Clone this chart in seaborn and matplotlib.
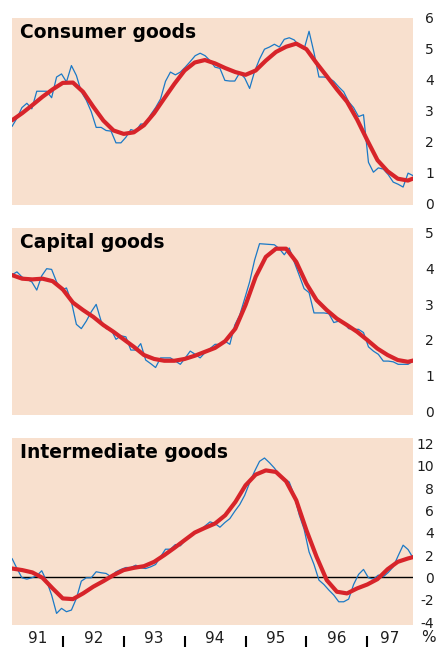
import matplotlib
matplotlib.use('Agg')
import matplotlib.pyplot as plt
import numpy as np
import seaborn as sns

consumer_monthly = [
    2.49, 2.76, 3.10, 3.24, 3.06, 3.63, 3.63, 3.63, 3.42, 4.09,
    4.19, 3.93, 4.46, 4.14, 3.61, 3.34, 2.97, 2.46, 2.46, 2.36,
    2.34, 1.96, 1.96, 2.14, 2.39, 2.34, 2.57, 2.57, 2.87, 3.10,
    3.38, 3.95, 4.25, 4.16, 4.25, 4.41, 4.59, 4.78, 4.86, 4.78,
    4.62, 4.41, 4.37, 3.98, 3.96, 3.96, 4.23, 4.06, 3.72, 4.27,
    4.67, 4.99, 5.06, 5.15, 5.06, 5.31, 5.36, 5.29, 5.10, 4.99,
    5.57, 4.88, 4.09, 4.09, 4.06, 3.95, 3.77, 3.61, 3.29, 3.10,
    2.81, 2.87, 1.33, 1.01, 1.15, 1.11, 0.93, 0.69, 0.62, 0.53,
    0.98, 0.90,
]
consumer_trend = [
    2.69, 2.92, 3.18, 3.45, 3.69, 3.90, 3.91, 3.61, 3.13, 2.68,
    2.36, 2.25, 2.30, 2.53, 2.92, 3.40, 3.87, 4.30, 4.56, 4.64,
    4.53, 4.38, 4.25, 4.16, 4.30, 4.62, 4.90, 5.07, 5.17, 4.99,
    4.54, 4.12, 3.69, 3.29, 2.71, 2.04, 1.40, 1.04, 0.80, 0.74,
    0.87,
]
capital_monthly = [
    3.82, 3.90, 3.76, 3.69, 3.62, 3.39, 3.79, 3.99, 3.97, 3.62,
    3.39, 3.45, 3.06, 2.43, 2.31, 2.52, 2.78, 2.99, 2.52, 2.31,
    2.29, 2.01, 2.11, 2.08, 1.71, 1.71, 1.89, 1.43, 1.33, 1.22,
    1.49, 1.49, 1.49, 1.40, 1.31, 1.49, 1.68, 1.59, 1.49, 1.64,
    1.75, 1.87, 1.87, 1.96, 1.87, 2.41, 2.69, 3.15, 3.62, 4.23,
    4.69, 4.68, 4.67, 4.66, 4.55, 4.38, 4.57, 4.18, 3.81, 3.43,
    3.32, 2.75, 2.75, 2.75, 2.73, 2.48, 2.52, 2.48, 2.31, 2.29,
    2.29, 2.20, 1.80, 1.68, 1.59, 1.40, 1.40, 1.38, 1.31, 1.31,
    1.31, 1.40,
]
capital_trend = [
    3.81, 3.71, 3.69, 3.71, 3.64, 3.41, 3.04, 2.83, 2.64, 2.41,
    2.22, 2.01, 1.80, 1.57, 1.46, 1.41, 1.41, 1.46, 1.55, 1.66,
    1.77, 1.96, 2.31, 2.97, 3.76, 4.32, 4.55, 4.55, 4.18, 3.57,
    3.11, 2.83, 2.59, 2.41, 2.22, 1.99, 1.75, 1.57, 1.43, 1.38,
    1.45,
]
intermediate_monthly = [
    1.70, 0.80, -0.03, -0.15, -0.03, 0.15, 0.60, -0.33, -1.58, -3.22,
    -2.77, -3.07, -2.92, -1.88, -0.33, -0.03, -0.03, 0.51, 0.42, 0.36,
    0.06, 0.51, 0.72, 0.89, 0.89, 1.10, 0.86, 0.80, 0.95, 1.16,
    1.85, 2.53, 2.53, 2.95, 2.83, 3.34, 3.78, 4.08, 4.20, 4.62,
    4.98, 4.83, 4.50, 4.92, 5.27, 5.93, 6.53, 7.36, 8.49, 9.51,
    10.40, 10.70, 10.28, 9.80, 9.21, 8.85, 8.55, 7.36, 5.63, 4.32,
    2.29, 1.16, -0.24, -0.63, -1.13, -1.58, -2.18, -2.18, -1.94, -0.63,
    0.27, 0.72, -0.03, -0.15, 0.21, 0.06, 0.45, 0.95, 1.94, 2.89,
    2.50, 1.76,
]
intermediate_trend = [
    0.80, 0.66, 0.45, -0.03, -0.98, -1.88, -1.94, -1.43, -0.83, -0.33,
    0.21, 0.66, 0.86, 1.01, 1.40, 2.00, 2.65, 3.34, 4.02, 4.44,
    4.83, 5.57, 6.76, 8.25, 9.21, 9.59, 9.45, 8.61, 6.91, 4.23,
    1.85, -0.24, -1.28, -1.43, -0.98, -0.63, -0.15, 0.74, 1.40, 1.70,
    1.94,
]
panel_titles = ['Consumer goods', 'Capital goods', 'Intermediate goods']
year_labels = ['91', '92', '93', '94', '95', '96', '97']
yticks = [list(range(0, 7)), list(range(0, 6)), list(range(-4, 13, 2))]
ylims = [(-0.05, 5.89), (-0.11, 5.13), (-4.26, 12.49)]

start = 1991 + 2 / 12          # March 1991, left edge
x_end = start + 79 / 12        # right edge
x_trend = start + np.arange(len(consumer_trend)) * 2 / 12

bg = '#F8E0CE'
blue = '#1B79C6'
red = '#D7242A'
ink = '#1E1E1E'

sns.set_style('white')
plt.rcParams['font.family'] = ['DejaVu Sans']
plt.rcParams['axes.unicode_minus'] = False

fig = plt.figure(figsize=(4.37, 6.47), dpi=100)
bottoms = [0.6832, 0.3586, 0.0340]
series = [
    (consumer_monthly, consumer_trend),
    (capital_monthly, capital_trend),
    (intermediate_monthly, intermediate_trend),
]

for i, (monthly, trend) in enumerate(series):
    ax = fig.add_axes([0.0275, bottoms[i], 0.9176, 0.289])
    ax.set_facecolor(bg)
    x_raw = np.linspace(start, x_end, len(monthly))
    sns.lineplot(x=x_raw, y=monthly, ax=ax, color=blue, linewidth=0.9)
    sns.lineplot(x=x_trend, y=trend, ax=ax, color=red, linewidth=3.0)
    if i == 2:
        ax.axhline(0, color='black', linewidth=1.0, zorder=1)
    ax.set_xlim(start, x_end)
    ax.set_ylim(*ylims[i])
    for s in ax.spines.values():
        s.set_visible(False)
    ax.yaxis.tick_right()
    ax.set_yticks(yticks[i])
    ax.tick_params(axis='y', length=0, pad=15, labelsize=10, colors=ink)
    for lab in ax.get_yticklabels():
        lab.set_horizontalalignment('right')
    ax.text(0.02, 0.975, panel_titles[i], transform=ax.transAxes,
            ha='left', va='top', fontsize=13.5, fontweight='bold', color='black')
    ax.grid(False)
    if i < 2:
        ax.set_xticks([])
    else:
        years = np.arange(1992, 1998)
        centers = [(start + 1992) / 2] + [y + 0.5 for y in years[:-1]] + [(1997 + x_end) / 2]
        ax.set_xticks(centers)
        ax.set_xticklabels(year_labels)
        ax.set_xticks(years, minor=True)
        ax.spines['bottom'].set_position(('outward', 8))
        ax.tick_params(axis='x', which='major', length=0, pad=-4, labelsize=11, colors=ink)
        ax.tick_params(axis='x', which='minor', bottom=True, length=8.6, width=1.5, color='black')

fig.text(428 / 437, 1 - 637 / 647, '%', ha='center', va='center', fontsize=11, color=ink)

fig.savefig('out.png', dpi=100)
